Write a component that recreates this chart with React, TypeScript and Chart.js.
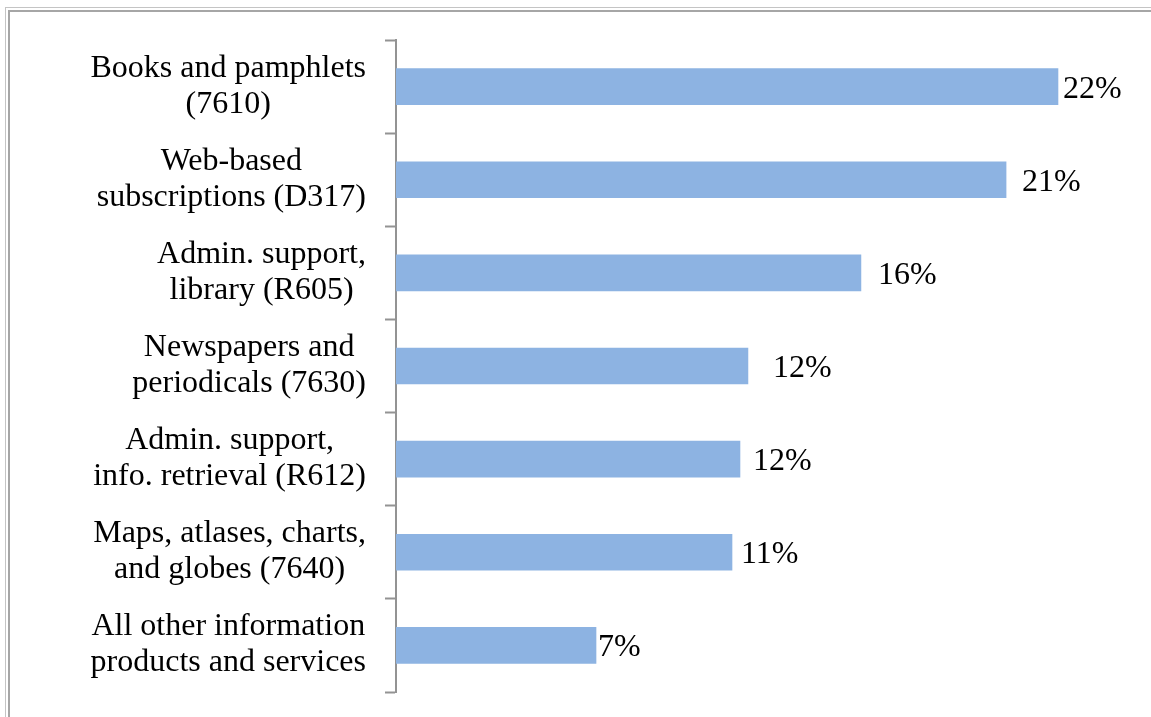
import React, { useEffect, useRef } from "react";
import { Chart, registerables } from "chart.js";

Chart.register(...registerables);

// ---- Data ----
const categories: string[][] = [
  ["Books and pamphlets", "(7610)"],
  ["Web-based", "subscriptions (D317)"],
  ["Admin. support,", "library (R605)"],
  ["Newspapers and", "periodicals (7630)"],
  ["Admin. support,", "info. retrieval (R612)"],
  ["Maps, atlases, charts,", "and globes (7640)"],
  ["All other information", "products and services"],
];

const shares: number[] = [22.44, 20.68, 15.76, 11.93, 11.66, 11.39, 6.78];

// ---- Styling ----
const FONT = '32px "Liberation Serif", "Times New Roman", serif';
const BAR_COLOR = "#8DB3E2";
const AXIS_COLOR = "#939393";
const LABEL_GAPS = [5, 16, 17, 25, 13, 9, 2];

const labelPlugin = {
  id: "customLabels",
  afterDraw(chart: any) {
    const ctx = chart.ctx as CanvasRenderingContext2D;
    const yScale = chart.scales.y;
    const meta = chart.getDatasetMeta(0);
    ctx.save();
    ctx.font = FONT;
    ctx.fillStyle = "#000000";
    ctx.textBaseline = "alphabetic";
    const rightEdge = yScale.right - 30;
    categories.forEach((lines, i) => {
      const cy = yScale.getPixelForValue(i);
      const blockW = Math.max(...lines.map((l) => ctx.measureText(l).width));
      const cx = rightEdge - blockW / 2;
      ctx.textAlign = "center";
      lines.forEach((l, k) => {
        ctx.fillText(l, cx, cy + (k - (lines.length - 1) / 2) * 36 + 8);
      });
    });
    ctx.textAlign = "left";
    meta.data.forEach((bar: any, i: number) => {
      ctx.fillText(Math.round(shares[i]) + "%", bar.x + LABEL_GAPS[i], bar.y + 11);
    });
    ctx.restore();
  },
};

export default function App() {
  const canvasRef = useRef<HTMLCanvasElement | null>(null);

  useEffect(() => {
    const canvas = canvasRef.current;
    if (!canvas) return;
    const chart = new Chart(canvas, {
      type: "bar",
      data: {
        labels: categories.map((c) => c.join(" ")),
        datasets: [
          {
            data: shares,
            backgroundColor: BAR_COLOR,
            borderWidth: 0,
            barThickness: 36,
          },
        ],
      },
      options: {
        indexAxis: "y",
        responsive: false,
        animation: false,
        devicePixelRatio: 1,
        layout: { padding: { left: 385, right: 47, top: 40, bottom: 25 } },
        plugins: {
          legend: { display: false },
          tooltip: { enabled: false },
        },
        scales: {
          x: {
            display: false,
            min: 0,
            max: 24,
          },
          y: {
            display: true,
            ticks: { display: false },
            grid: {
              display: true,
              offset: true,
              drawOnChartArea: false,
              drawTicks: true,
              tickLength: 11,
              tickColor: AXIS_COLOR,
              tickWidth: 2,
            },
            border: { display: true, color: AXIS_COLOR, width: 2 },
          },
        },
      },
      plugins: [labelPlugin],
    });
    return () => chart.destroy();
  }, []);

  return (
    <div
      style={{
        position: "fixed",
        left: 0,
        top: 0,
        width: 1151,
        height: 717,
        background: "#ffffff",
        overflow: "hidden",
      }}
    >
      <div
        style={{
          position: "absolute",
          left: 5,
          top: 7,
          right: 0,
          bottom: 0,
          borderLeft: "1px solid #c4c4c4",
          borderTop: "1px solid #c4c4c4",
        }}
      />
      <div
        style={{
          position: "absolute",
          left: 8,
          top: 10,
          right: 0,
          bottom: 0,
          borderLeft: "2px solid #a6a6a6",
          borderTop: "2px solid #a6a6a6",
        }}
      />
      <canvas
        ref={canvasRef}
        width={1151}
        height={717}
        style={{ position: "absolute", left: 0, top: 0, width: 1151, height: 717 }}
      />
    </div>
  );
}
